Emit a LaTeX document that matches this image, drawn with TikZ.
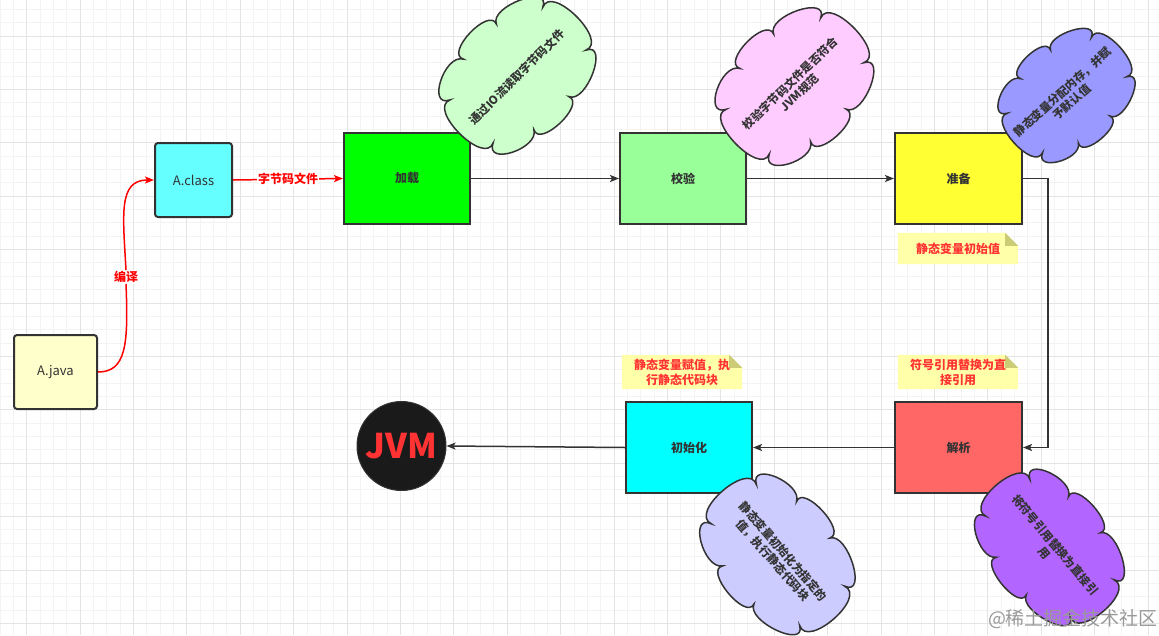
\documentclass[tikz,border=0pt]{standalone}
\usepackage{fontspec}
\setmainfont{Noto Sans CJK SC}
\usetikzlibrary{arrows.meta,calc}
\pgfdeclarelayer{gridlayer}
\pgfdeclarelayer{bglayer}
\pgfsetlayers{gridlayer,bglayer,main}
\definecolor{edgec}{HTML}{333333}
\definecolor{javaf}{HTML}{FFFFCC}
\definecolor{classf}{HTML}{66FFFF}
\definecolor{loadf}{HTML}{00FF00}
\definecolor{verf}{HTML}{99FF99}
\definecolor{prepf}{HTML}{FFFF33}
\definecolor{parsef}{HTML}{FF6666}
\definecolor{initf}{HTML}{00FFFF}
\definecolor{jvmf}{HTML}{1A1A1A}
\definecolor{jvmt}{HTML}{FF3333}
\definecolor{notef}{HTML}{FFFFAA}
\definecolor{foldf}{HTML}{CCCC77}
\definecolor{notet}{HTML}{FF3333}
\definecolor{redl}{HTML}{FF0000}
\definecolor{cloudA}{HTML}{CCFFCC}
\definecolor{cloudB}{HTML}{FFCCFF}
\definecolor{cloudC}{HTML}{9999FF}
\definecolor{cloudD}{HTML}{CCCCFF}
\definecolor{cloudE}{HTML}{B266FF}
\definecolor{gridmin}{HTML}{F3F3F3}
\definecolor{gridmaj}{HTML}{E4E4E4}
% eight-lobed cloud: centre x, centre y, angle, semi-axis a, semi-axis b, fill
\newcommand\myCloud[6]{%
  \begin{scope}[shift={(#1,#2)}, rotate=#3]
    \filldraw[fill=#6, draw=edgec, line width=1.5pt] ({#4*cos(-35)},{#5*sin(-35)})
      \foreach \ta/\tb in {-35/35, 35/75, 75/110, 110/145, 145/215, 215/250, 250/285, 285/325} {
        .. controls ({1.35*#4*cos(\ta)},{1.35*#5*sin(\ta)}) and ({1.35*#4*cos(\tb)},{1.35*#5*sin(\tb)}) .. ({#4*cos(\tb)},{#5*sin(\tb)})
      } -- cycle;
  \end{scope}}
\begin{document}
\begin{tikzpicture}[x=1pt,y=-1pt,
  box/.style={draw=edgec, line width=2pt, text=edgec, font=\fontsize{12}{14}\selectfont\bfseries, inner sep=0pt},
  srcbox/.style={box, rounded corners=3pt, font=\fontsize{13}{15}\selectfont},
  conn/.style={draw=edgec, line width=1.5pt, -{Stealth[length=9pt,width=7pt,inset=2pt]}},
  redconn/.style={conn, draw=redl},
  lbl/.style={fill=white, text=redl, font=\fontsize{12}{14}\selectfont\bfseries, inner sep=1pt},
  note/.style={text=notet, font=\fontsize{12}{15}\selectfont\bfseries, minimum width=120pt, align=center, inner sep=0pt},
  cloudtext/.style={text=edgec, font=\fontsize{11.5}{13.5}\selectfont\bfseries, align=center, inner sep=0pt}
]
\useasboundingbox (0,0) rectangle (1159,635);
\begin{pgfonlayer}{gridlayer}
  \fill[white] (0,0) rectangle (1159,635);
  \foreach \i in {0,...,87} \draw[gridmin, line width=1pt] (\i*13.35,0) -- (\i*13.35,635);
  \foreach \j in {0,...,47} \draw[gridmin, line width=1pt] (0,9.3+\j*13.35) -- (1159,9.3+\j*13.35);
  \foreach \i in {0,...,21} \draw[gridmaj, line width=1pt] (26.7+\i*53.4,0) -- (26.7+\i*53.4,635);
  \foreach \j in {0,...,11} \draw[gridmaj, line width=1pt] (0,36+\j*53.4) -- (1159,36+\j*53.4);
\end{pgfonlayer}

% boxes
\node[srcbox, fill=javaf, minimum width=83pt, minimum height=74pt] (java) at (55.5,372) {A.java};
\node[srcbox, fill=classf, minimum width=77pt, minimum height=74pt] (cls) at (193.5,180) {A.class};
\node[box, fill=loadf, minimum width=126pt, minimum height=91pt] (load) at (407,178.5) {加载};
\node[box, fill=verf, minimum width=126pt, minimum height=91pt] (verify) at (683,178.5) {校验};
\node[box, fill=prepf, minimum width=127pt, minimum height=91pt] (prep) at (958.5,178.5) {准备};
\node[box, fill=parsef, minimum width=127pt, minimum height=91pt] (parse) at (958.5,447.5) {解析};
\node[box, fill=initf, minimum width=126pt, minimum height=91pt] (init) at (689,447.5) {初始化};
\node[circle, fill=jvmf, draw=edgec, line width=1pt, minimum size=89pt, inner sep=0pt, text=jvmt, font=\fontsize{34}{36}\selectfont\bfseries] (jvm) at (401.5,446) {JVM};

% notes
\node[note, minimum height=31pt] (n1) at (958,248.5) {静态变量初始值};
\node[note, minimum height=34pt] (n2) at (958,372) {符号引用替换为直\\接引用};
\node[note, minimum height=34pt] (n3) at (682,372) {静态变量赋值，执\\行静态代码块};
\begin{pgfonlayer}{bglayer}
  \foreach \n in {n1,n2,n3} {
    \fill[notef] (\n.north west) -- ($(\n.north east)+(-13,0)$) -- ($(\n.north east)+(0,13)$) -- (\n.south east) -- (\n.south west) -- cycle;
    \fill[foldf] ($(\n.north east)+(-13,0)$) -- ($(\n.north east)+(-13,13)$) -- ($(\n.north east)+(0,13)$) -- cycle;
  }
\end{pgfonlayer}

% connectors
\node[lbl] (bianyi) at (126,277) {编译};
\draw[redl, line width=1.5pt] (java.east) .. controls (126,372) and (128.5,345) .. (bianyi.south);
\draw[redconn] (bianyi.north) .. controls (123,215) and (118,180) .. (cls.west);
\draw[redconn] (cls.east) -- node[lbl] (zjm) {字节码文件} (load.west);
\draw[conn] (load.east) -- (verify.west);
\draw[conn] (verify.east) -- (prep.west);
\draw[conn] (prep.east) -- ++(25,0) |- (parse.east);
\draw[conn] (parse.west) -- (init.east);
\draw[conn] (init.west) -- (jvm.east);

% clouds
\myCloud{518}{75}{45}{80}{53}{cloudA}
\node[cloudtext, rotate=45] (c1) at (517,77) {通过IO流读取字节码文件};
\myCloud{795}{86}{44}{80}{54}{cloudB}
\node[cloudtext, rotate=44] (c2) at (795,88) {校验字节码文件是否符合\\JVM规范};
\myCloud{1067}{95}{42}{69}{46}{cloudC}
\node[cloudtext, rotate=42] (c3) at (1067,97) {静态变量分配内存，并赋\\予默认值};
\myCloud{778}{555}{-49}{82}{52}{cloudD}
\node[cloudtext, rotate=-49] (c4) at (778,556) {静态变量初始化为指定的\\值，执行静态代码块};
\myCloud{1050}{548}{-50}{80}{50}{cloudE}
\node[cloudtext, rotate=-50] (c5) at (1050,549) {将符号引用替换为直接引\\用};

% watermark
\node[text=gray!80, font=\fontsize{19}{21}\selectfont, inner sep=0pt] (wm) at (1073,619) {@稀土掘金技术社区};
\end{tikzpicture}
\end{document}
